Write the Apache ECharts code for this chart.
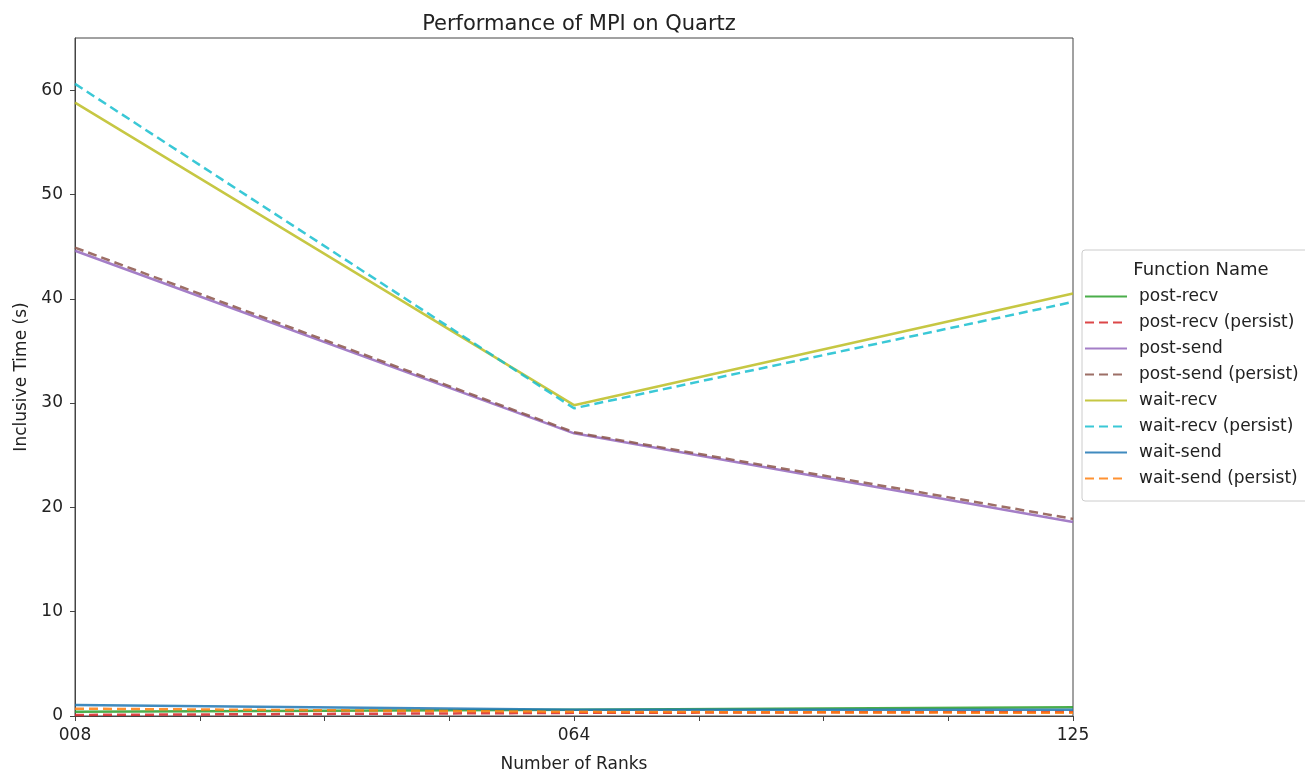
<!DOCTYPE html>
<html>
<head>
<meta charset="utf-8">
<script src="https://cdn.jsdelivr.net/npm/echarts@6/dist/echarts.min.js"></script>
<style>
  html, body { margin: 0; padding: 0; background: #fff; }
  #main { width: 1305px; height: 772px; }
</style>
</head>
<body>
<div id="main"></div>
<script>
// x categories (number of ranks), placed at 0, 1, 2
var ranks = ['008', '064', '125']

var postRecv = [0.4, 0.6, 0.85]
var postRecvPersist = [0.1, 0.3, 0.4]
var postSend = [44.6, 27.1, 18.6]
var postSendPersist = [44.9, 27.2, 18.9]
var waitRecv = [58.8, 29.8, 40.5]
var waitRecvPersist = [60.6, 29.5, 39.7]
var waitSend = [1.05, 0.6, 0.6]
var waitSendPersist = [0.7, 0.4, 0.3]

var font = 'DejaVu Sans'

function mk(name, vals, color, dashed) {
    return {
        name: name,
        type: 'line',
        symbol: 'none',
        data: vals.map(function (v, i) { return [i, v] }),
        lineStyle: { color: color, width: 2.5, type: dashed ? [9, 5] : 'solid', opacity: 0.85 },
        itemStyle: { color: color }
    }
}

var chart = echarts.init(document.getElementById('main'))
var option = {
    animation: false,
    backgroundColor: '#fff',
    title: [
        {
            text: 'Performance of MPI on Quartz',
            left: 574, top: 9, textAlign: 'center',
            textStyle: { fontFamily: font, fontSize: 21, fontWeight: 'normal', color: '#222' }
        },
        {
            text: 'Function Name',
            left: 1196, top: 256, textAlign: 'center',
            textStyle: { fontFamily: font, fontSize: 18, fontWeight: 'normal', color: '#222' }
        }
    ],
    legend: {
        orient: 'vertical',
        left: 1082, top: 250,
        padding: [38, 40, 14, 2],
        borderColor: '#ccc', borderWidth: 1, borderRadius: 3,
        itemWidth: 42, itemHeight: 14, itemGap: 9,
        itemStyle: { opacity: 0 },
        textStyle: { fontFamily: font, fontSize: 17, color: '#222', padding: [0, 0, 0, 7] },
        data: ['post-recv', 'post-recv (persist)', 'post-send', 'post-send (persist)',
            'wait-recv', 'wait-recv (persist)', 'wait-send', 'wait-send (persist)']
    },
    grid: {
        left: 75, right: 232, top: 38, bottom: 56,
        outerBoundsMode: 'none', containLabel: false,
        show: true, borderColor: '#444', borderWidth: 1
    },
    xAxis: {
        type: 'value', min: 0, max: 2, interval: 0.25,
        name: 'Number of Ranks', nameLocation: 'middle', nameGap: 40,
        nameTextStyle: { fontFamily: font, fontSize: 17, color: '#222' },
        axisLine: { lineStyle: { color: '#444' } },
        axisTick: { length: 5, lineStyle: { color: '#444' } },
        splitLine: { show: false },
        axisLabel: {
            fontFamily: font, fontSize: 17, color: '#222', margin: 11,
            formatter: function (v) { return Number.isInteger(v) ? ranks[v] : '' }
        }
    },
    yAxis: {
        type: 'value', min: 0, max: 65, interval: 10,
        name: 'Inclusive Time (s)', nameLocation: 'middle', nameGap: 45,
        nameTextStyle: { fontFamily: font, fontSize: 17, color: '#222' },
        axisLine: { show: true, lineStyle: { color: '#444' } },
        axisTick: { show: true, length: 5, lineStyle: { color: '#444' } },
        splitLine: { show: false },
        axisLabel: { fontFamily: font, fontSize: 17, color: '#222', margin: 12, showMaxLabel: false }
    },
    series: [
        mk('post-recv', postRecv, '#2ca02c', false),
        mk('post-recv (persist)', postRecvPersist, '#d62728', true),
        mk('post-send', postSend, '#9467bd', false),
        mk('post-send (persist)', postSendPersist, '#8c564b', true),
        mk('wait-recv', waitRecv, '#bcbd22', false),
        mk('wait-recv (persist)', waitRecvPersist, '#17becf', true),
        mk('wait-send', waitSend, '#1f77b4', false),
        mk('wait-send (persist)', waitSendPersist, '#ff7f0e', true)
    ]
}
chart.setOption(option)
</script>
</body>
</html>
